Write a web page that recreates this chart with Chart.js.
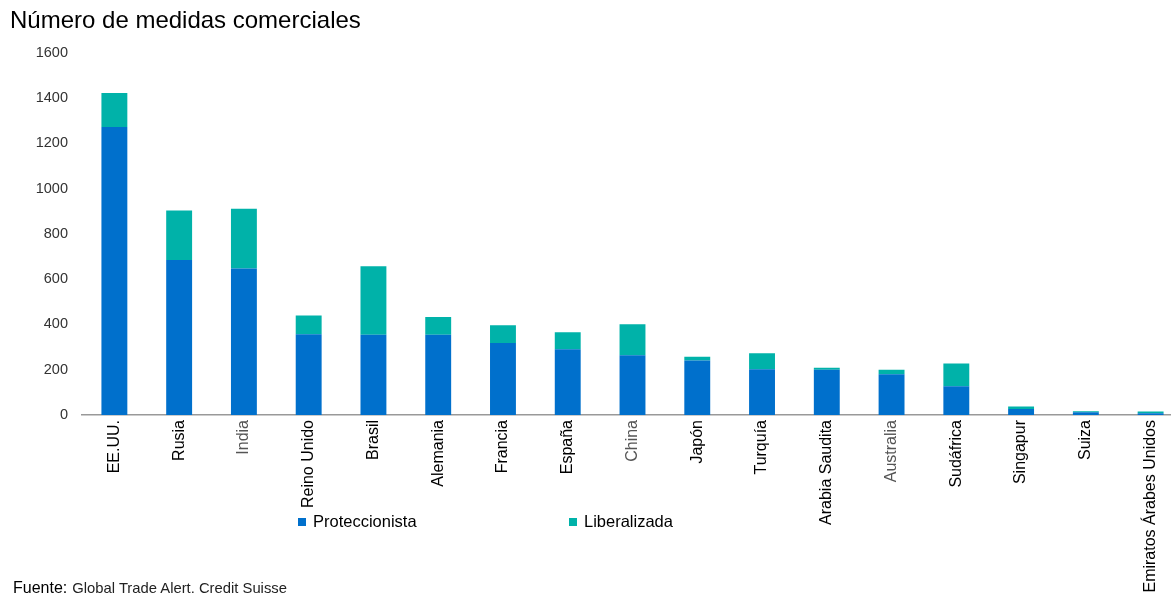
<!DOCTYPE html>
<html>
<head>
<meta charset="utf-8">
<script src="https://cdn.jsdelivr.net/npm/chart.js@4"></script>
<style>
  html, body { margin: 0; padding: 0; background: #fff; overflow: hidden; width: 1171px; height: 595px; }
  #wrap { position: absolute; left: 0; top: 0; width: 1183px; height: 595px; }
  .txt { position: absolute; font-family: "Liberation Sans", Arial, sans-serif; color: #000; white-space: nowrap; }
  .sw { display: inline-block; width: 8px; height: 8px; margin-right: 7px; vertical-align: 1px; }
</style>
</head>
<body>
<div id="wrap"><canvas id="c" width="1183" height="595"></canvas></div>
<div class="txt" style="left:298px; top:512px; font-size:16.5px;"><span class="sw" style="background:#0070CC"></span>Proteccionista</div>
<div class="txt" style="left:569px; top:512px; font-size:16.5px;"><span class="sw" style="background:#00B2A9"></span>Liberalizada</div>
<div class="txt" style="left:13px; top:579px; font-size:16px;">Fuente:<span style="font-size:14.8px; color:#222; margin-left:5px;">Global Trade Alert. Credit Suisse</span></div>
<script>
const categories = ["EE.UU.", "Rusia", "India", "Reino Unido", "Brasil", "Alemania", "Francia", "España", "China", "Japón", "Turquía", "Arabia Saudita", "Australia", "Sudáfrica", "Singapur", "Suiza", "Emiratos Árabes Unidos"];
const proteccionista = [1272, 685, 647, 357, 354, 354, 318, 290, 264, 241, 202, 200, 180, 127, 27, 12, 8];
const liberalizada   = [150, 218, 264, 82, 303, 79, 78, 75, 137, 16, 71, 9, 20, 100, 10, 5, 7];
const yTicks = [0, 200, 400, 600, 800, 1000, 1200, 1400, 1600];
const grayLabels = ["India", "China", "Australia"];

new Chart(document.getElementById('c'), {
  type: 'bar',
  data: {
    labels: categories,
    datasets: [
      { label: 'Proteccionista', data: proteccionista, backgroundColor: '#0070CC', barPercentage: 0.4, categoryPercentage: 1.0 },
      { label: 'Liberalizada', data: liberalizada, backgroundColor: '#00B2A9', barPercentage: 0.4, categoryPercentage: 1.0 }
    ]
  },
  options: {
    responsive: false,
    animation: false,
    layout: { padding: { left: 10, right: 0, top: 0, bottom: 0 } },
    plugins: {
      legend: { display: false },
      tooltip: { enabled: false },
      title: {
        display: true,
        text: 'Número de medidas comerciales',
        align: 'start',
        color: '#000',
        font: { family: '"Liberation Sans", Arial, sans-serif', size: 24, weight: 'normal' },
        padding: { top: 7, bottom: 17 }
      }
    },
    scales: {
      x: {
        stacked: true,
        grid: { display: false },
        border: { display: true, color: '#999', width: 1.5 },
        ticks: {
          minRotation: 90, maxRotation: 90, autoSkip: false, padding: -3,
          font: { family: '"Liberation Sans", Arial, sans-serif', size: 16 },
          color: (ctx) => grayLabels.includes(categories[ctx.index]) ? '#555' : '#000'
        },
        afterFit: (s) => { s.height = 180; }
      },
      y: {
        stacked: true,
        min: 0, max: 1600,
        grid: { display: false },
        border: { display: false },
        afterBuildTicks: (s) => { s.ticks = yTicks.map(v => ({ value: v })); },
        ticks: {
          padding: 6,
          font: { family: '"Liberation Sans", Arial, sans-serif', size: 14.5 },
          color: '#333',
          callback: (v) => String(v)
        },
        afterFit: (s) => { s.width = 72; }
      }
    }
  }
});
</script>
</body>
</html>
